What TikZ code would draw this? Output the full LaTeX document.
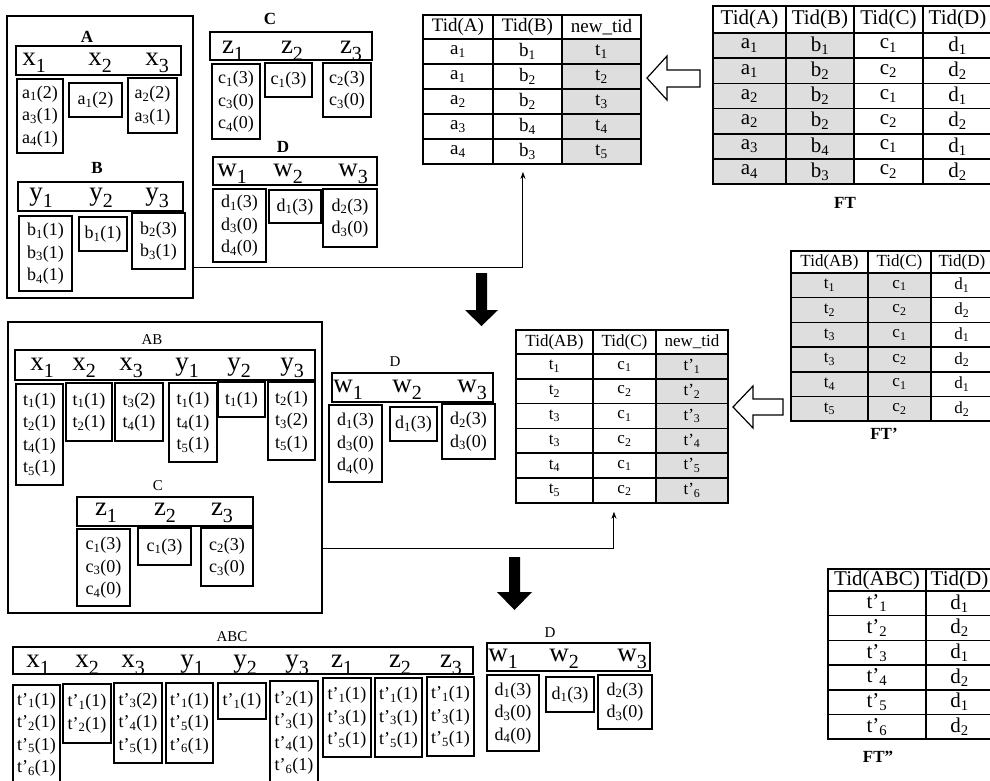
\documentclass[tikz,border=0pt]{standalone}
\usepackage{fontspec}
\setmainfont{Liberation Serif}
\usetikzlibrary{matrix,arrows.meta}
\definecolor{shade}{gray}{0.87}
\newcommand\sbs[1]{\textsubscript{#1}}
\newcommand\hl[2]{#1\raisebox{-7pt}{\fontsize{20}{20}\selectfont #2}}
\newcommand\cl[1]{\begin{tabular}{@{}c@{}}#1\end{tabular}}
% rectangle node spanning (#3,#4)-(#5,#6), style #1, name #2, text #7
\newcommand\boxnode[7]{%
  \node[#1, minimum width={(#5-#3)*1pt}, minimum height={(#6-#4)*1pt}]
    (#2) at ({(#3+#5)/2},{(#4+#6)/2}) {#7};}

\tikzset{
  cell/.style={draw, line width=1.1pt, inner sep=0pt,
    font=\fontsize{18}{22.5}\selectfont},
  hdrbox/.style={draw, line width=1.1pt, inner sep=0pt},
  hdrlab/.style={anchor=base, inner sep=0pt, font=\fontsize{27}{27}\selectfont},
  outerbox/.style={draw, line width=1.3pt, inner sep=0pt},
  boldlab/.style={inner sep=0pt, font=\fontsize{17}{17}\selectfont\bfseries},
  plainlab/.style={inner sep=0pt, font=\fontsize{15}{15}\selectfont},
  tbl/.style={matrix of nodes, anchor=north west, inner sep=0pt,
    column sep=-1.5pt, row sep=-1.5pt},
  tcell/.style={draw, line width=1.5pt, inner sep=0pt, anchor=center,
    font=\fontsize{#1}{#1}\selectfont},
  conn/.style={line width=1pt, -{Stealth[length=7pt,width=5pt]}},
  hollowarrow/.style={draw, line width=1.2pt, fill=white, line join=miter},
  blackarrow/.style={fill=black},
}

\begin{document}
\begin{tikzpicture}[x=1pt,y=-1pt]
\useasboundingbox (0,0) rectangle (990,780);
\clip (0,0) rectangle (990,780);
\fill[white] (0,0) rectangle (990,780);

% ===== attribute lists A and B =====
\boxnode{outerbox}{grpAB}{7}{16}{193}{298}{}
\node[boldlab] (labA) at (87,37) {A};
\boxnode{hdrbox}{hdrX}{16}{46}{181}{75}{}
\node[hdrlab] (hx1) at (34,65) {\hl{x}{1}};
\node[hdrlab] (hx2) at (100,65) {\hl{x}{2}};
\node[hdrlab] (hx3) at (157,65) {\hl{x}{3}};
\boxnode{cell}{ax1}{17}{79}{63}{153}{\cl{a\sbs{1}(2)\\a\sbs{3}(1)\\a\sbs{4}(1)}}
\boxnode{cell}{ax2}{69}{83}{122}{117}{\cl{a\sbs{1}(2)}}
\boxnode{cell}{ax3}{128}{78}{177}{133}{\cl{a\sbs{2}(2)\\a\sbs{3}(1)}}

\node[boldlab] (labB) at (97,168) {B};
\boxnode{hdrbox}{hdrY}{18}{182}{183}{211}{}
\node[hdrlab] (hy1) at (41,200) {\hl{y}{1}};
\node[hdrlab] (hy2) at (101,200) {\hl{y}{2}};
\node[hdrlab] (hy3) at (157,200) {\hl{y}{3}};
\boxnode{cell}{by1}{19}{216}{72}{291}{\cl{b\sbs{1}(1)\\b\sbs{3}(1)\\b\sbs{4}(1)}}
\boxnode{cell}{by2}{79}{217}{127}{251}{\cl{b\sbs{1}(1)}}
\boxnode{cell}{by3}{132}{213}{185}{269}{\cl{b\sbs{2}(3)\\b\sbs{3}(1)}}

% ===== attribute lists C and D =====
\node[boldlab] (labC) at (270,19) {C};
\boxnode{hdrbox}{hdrZ}{210}{32}{372}{60}{}
\node[hdrlab] (hz1) at (233,53) {\hl{z}{1}};
\node[hdrlab] (hz2) at (292,53) {\hl{z}{2}};
\node[hdrlab] (hz3) at (351,53) {\hl{z}{3}};
\boxnode{cell}{cz1}{212}{64}{260}{139}{\cl{c\sbs{1}(3)\\c\sbs{3}(0)\\c\sbs{4}(0)}}
\boxnode{cell}{cz2}{265}{63}{312}{97}{\cl{c\sbs{1}(3)}}
\boxnode{cell}{cz3}{323}{63}{371}{117}{\cl{c\sbs{2}(3)\\c\sbs{3}(0)}}

\node[boldlab] (labD) at (283,147) {D};
\boxnode{hdrbox}{hdrW}{213}{157}{377}{185}{}
\node[hdrlab] (hw1) at (232,176) {\hl{w}{1}};
\node[hdrlab] (hw2) at (288,176) {\hl{w}{2}};
\node[hdrlab] (hw3) at (353,176) {\hl{w}{3}};
\boxnode{cell}{dw1}{213}{189}{266}{262}{\cl{d\sbs{1}(3)\\d\sbs{3}(0)\\d\sbs{4}(0)}}
\boxnode{cell}{dw2}{269}{190}{321}{223}{\cl{d\sbs{1}(3)}}
\boxnode{cell}{dw3}{323}{189}{377}{247}{\cl{d\sbs{2}(3)\\d\sbs{3}(0)}}

% ===== first join table =====
\matrix[tbl,
  nodes={tcell=19, minimum height=25pt},
  column 1/.style={nodes={minimum width=70pt}},
  column 2/.style={nodes={minimum width=69pt}},
  column 3/.style={nodes={minimum width=79pt, fill=shade}},
  row 1/.style={nodes={minimum height=24pt, fill=white}}] (T1) at (422,14) {
  Tid(A) & Tid(B) & new\_tid \\
  a\sbs{1} & b\sbs{1} & t\sbs{1} \\
  a\sbs{1} & b\sbs{2} & t\sbs{2} \\
  a\sbs{2} & b\sbs{2} & t\sbs{3} \\
  a\sbs{3} & b\sbs{4} & t\sbs{4} \\
  a\sbs{4} & b\sbs{3} & t\sbs{5} \\
};

% ===== FT =====
\matrix[tbl,
  nodes={tcell=21, minimum height=25.2pt},
  column 1/.style={nodes={minimum width=73pt, fill=shade}},
  column 2/.style={nodes={minimum width=68pt, fill=shade}},
  column 3/.style={nodes={minimum width=69pt}},
  column 4/.style={nodes={minimum width=69pt}},
  row 1/.style={nodes={minimum height=27pt, fill=white}}] (FT) at (712,5) {
  Tid(A) & Tid(B) & Tid(C) & Tid(D) \\
  a\sbs{1} & b\sbs{1} & c\sbs{1} & d\sbs{1} \\
  a\sbs{1} & b\sbs{2} & c\sbs{2} & d\sbs{2} \\
  a\sbs{2} & b\sbs{2} & c\sbs{1} & d\sbs{1} \\
  a\sbs{2} & b\sbs{2} & c\sbs{2} & d\sbs{2} \\
  a\sbs{3} & b\sbs{4} & c\sbs{1} & d\sbs{1} \\
  a\sbs{4} & b\sbs{3} & c\sbs{2} & d\sbs{2} \\
};
\node[boldlab] (labFT) at (845,203) {FT};

% hollow arrow FT -> first join table
\draw[hollowarrow] (647,78) -- (667,56) -- (667,70) -- (700,70) -- (700,87)
  -- (667,87) -- (667,100) -- cycle;

% connector from A,B lists to the first join table
\draw[conn] ([yshift=-110pt]grpAB.east) -| ([xshift=-9pt,yshift=-7pt]T1.south);

% step arrow
\fill[blackarrow] (476,273) -- (487,273) -- (487,310) -- (498,310) -- (481.5,326)
  -- (465,310) -- (476,310) -- cycle;

% ===== attribute lists AB and C =====
\boxnode{outerbox}{grpABC}{8}{322}{322}{613}{}
\node[plainlab] (labAB) at (152,340) {AB};
\boxnode{hdrbox}{hdrAB}{15}{350}{315}{380}{}
\node[hdrlab] (hab1) at (42,370) {\hl{x}{1}};
\node[hdrlab] (hab2) at (84,370) {\hl{x}{2}};
\node[hdrlab] (hab3) at (131,370) {\hl{x}{3}};
\node[hdrlab] (hab4) at (187,370) {\hl{y}{1}};
\node[hdrlab] (hab5) at (239,370) {\hl{y}{2}};
\node[hdrlab] (hab6) at (292,370) {\hl{y}{3}};
\boxnode{cell}{ab1}{16}{384}{63}{485}{\cl{t\sbs{1}(1)\\t\sbs{2}(1)\\t\sbs{4}(1)\\t\sbs{5}(1)}}
\boxnode{cell}{ab2}{66}{383}{112}{441}{\cl{t\sbs{1}(1)\\t\sbs{2}(1)}}
\boxnode{cell}{ab3}{115}{383}{163}{441}{\cl{t\sbs{3}(2)\\t\sbs{4}(1)}}
\boxnode{cell}{ab4}{169}{383}{217}{462}{\cl{t\sbs{1}(1)\\t\sbs{4}(1)\\t\sbs{5}(1)}}
\boxnode{cell}{ab5}{218}{382}{265}{417}{\cl{t\sbs{1}(1)}}
\boxnode{cell}{ab6}{268}{382}{315}{460}{\cl{t\sbs{2}(1)\\t\sbs{3}(2)\\t\sbs{5}(1)}}

\node[plainlab] (labC2) at (158,486) {C};
\boxnode{hdrbox}{hdrZ2}{77}{497}{253}{526}{}
\node[hdrlab] (hz21) at (106,515) {\hl{z}{1}};
\node[hdrlab] (hz22) at (165,515) {\hl{z}{2}};
\node[hdrlab] (hz23) at (222,515) {\hl{z}{3}};
\boxnode{cell}{cz21}{77}{529}{130}{606}{\cl{c\sbs{1}(3)\\c\sbs{3}(0)\\c\sbs{4}(0)}}
\boxnode{cell}{cz22}{138}{528}{191}{565}{\cl{c\sbs{1}(3)}}
\boxnode{cell}{cz23}{201}{528}{253}{586}{\cl{c\sbs{2}(3)\\c\sbs{3}(0)}}

% ===== attribute list D (second step) =====
\node[plainlab] (labD2) at (395,362) {D};
\boxnode{hdrbox}{hdrW2}{332}{373}{493}{402}{}
\node[hdrlab] (hw21) at (348,392) {\hl{w}{1}};
\node[hdrlab] (hw22) at (407,392) {\hl{w}{2}};
\node[hdrlab] (hw23) at (472,392) {\hl{w}{3}};
\boxnode{cell}{dw21}{329}{405}{382}{482}{\cl{d\sbs{1}(3)\\d\sbs{3}(0)\\d\sbs{4}(0)}}
\boxnode{cell}{dw22}{390}{407}{437}{441}{\cl{d\sbs{1}(3)}}
\boxnode{cell}{dw23}{442}{404}{495}{459}{\cl{d\sbs{2}(3)\\d\sbs{3}(0)}}

% ===== second join table =====
\matrix[tbl,
  nodes={tcell=17, minimum height=24.8pt},
  column 1/.style={nodes={minimum width=77pt}},
  column 2/.style={nodes={minimum width=63pt}},
  column 3/.style={nodes={minimum width=72pt, fill=shade}},
  row 1/.style={nodes={minimum height=24pt, fill=white}}] (T2) at (515,329) {
  Tid(AB) & Tid(C) & new\_tid \\
  t\sbs{1} & c\sbs{1} & t'\sbs{1} \\
  t\sbs{2} & c\sbs{2} & t'\sbs{2} \\
  t\sbs{3} & c\sbs{1} & t'\sbs{3} \\
  t\sbs{3} & c\sbs{2} & t'\sbs{4} \\
  t\sbs{4} & c\sbs{1} & t'\sbs{5} \\
  t\sbs{5} & c\sbs{2} & t'\sbs{6} \\
};

% ===== FT' =====
\matrix[tbl,
  nodes={tcell=17, minimum height=24.7pt},
  column 1/.style={nodes={minimum width=77pt, fill=shade}},
  column 2/.style={nodes={minimum width=63pt, fill=shade}},
  column 3/.style={nodes={minimum width=62pt}},
  row 1/.style={nodes={minimum height=22pt, fill=white}}] (FTp) at (790,250) {
  Tid(AB) & Tid(C) & Tid(D) \\
  t\sbs{1} & c\sbs{1} & d\sbs{1} \\
  t\sbs{2} & c\sbs{2} & d\sbs{2} \\
  t\sbs{3} & c\sbs{1} & d\sbs{1} \\
  t\sbs{3} & c\sbs{2} & d\sbs{2} \\
  t\sbs{4} & c\sbs{1} & d\sbs{1} \\
  t\sbs{5} & c\sbs{2} & d\sbs{2} \\
};
\node[boldlab] (labFTp) at (884,434) {FT'};

% hollow arrow FT' -> second join table
\draw[hollowarrow] (733,407) -- (753,386) -- (753,399) -- (783,399) -- (783,415)
  -- (753,415) -- (753,428) -- cycle;

% connector from AB,C lists to the second join table
\draw[conn] ([yshift=-80.5pt]grpABC.east) -| ([xshift=-8pt,yshift=-8pt]T2.south);

% step arrow
\fill[blackarrow] (509,557) -- (520,557) -- (520,592) -- (532,592) -- (514.5,610)
  -- (497,592) -- (509,592) -- cycle;

% ===== attribute list ABC =====
\node[plainlab] (labABC) at (232,637) {ABC};
\boxnode{hdrbox}{hdrABC}{13}{647}{473}{674}{}
\node[hdrlab] (hc1) at (38,667) {\hl{x}{1}};
\node[hdrlab] (hc2) at (87,667) {\hl{x}{2}};
\node[hdrlab] (hc3) at (133,667) {\hl{x}{3}};
\node[hdrlab] (hc4) at (192,667) {\hl{y}{1}};
\node[hdrlab] (hc5) at (245,667) {\hl{y}{2}};
\node[hdrlab] (hc6) at (297,667) {\hl{y}{3}};
\node[hdrlab] (hc7) at (342,667) {\hl{z}{1}};
\node[hdrlab] (hc8) at (400,667) {\hl{z}{2}};
\node[hdrlab] (hc9) at (451,667) {\hl{z}{3}};
\boxnode{cell}{abc1}{13}{685}{60}{784}{\cl{t'\sbs{1}(1)\\t'\sbs{2}(1)\\t'\sbs{5}(1)\\t'\sbs{6}(1)}}
\boxnode{cell}{abc2}{63}{684}{111}{743}{\cl{t'\sbs{1}(1)\\t'\sbs{2}(1)}}
\boxnode{cell}{abc3}{114}{683}{162}{763}{\cl{t'\sbs{3}(2)\\t'\sbs{4}(1)\\t'\sbs{5}(1)}}
\boxnode{cell}{abc4}{166}{683}{213}{763}{\cl{t'\sbs{1}(1)\\t'\sbs{5}(1)\\t'\sbs{6}(1)}}
\boxnode{cell}{abc5}{218}{683}{266}{719}{\cl{t'\sbs{1}(1)}}
\boxnode{cell}{abc6}{270}{681}{318}{784}{\cl{t'\sbs{2}(1)\\t'\sbs{3}(1)\\t'\sbs{4}(1)\\t'\sbs{6}(1)}}
\boxnode{cell}{abc7}{323}{678}{371}{757}{\cl{t'\sbs{1}(1)\\t'\sbs{3}(1)\\t'\sbs{5}(1)}}
\boxnode{cell}{abc8}{375}{678}{422}{757}{\cl{t'\sbs{1}(1)\\t'\sbs{3}(1)\\t'\sbs{5}(1)}}
\boxnode{cell}{abc9}{427}{677}{474}{756}{\cl{t'\sbs{1}(1)\\t'\sbs{3}(1)\\t'\sbs{5}(1)}}

% ===== attribute list D (third step) =====
\node[plainlab] (labD3) at (550,633) {D};
\boxnode{hdrbox}{hdrW3}{487}{643}{650}{671}{}
\node[hdrlab] (hw31) at (503,661) {\hl{w}{1}};
\node[hdrlab] (hw32) at (564,661) {\hl{w}{2}};
\node[hdrlab] (hw33) at (632,661) {\hl{w}{3}};
\boxnode{cell}{dw31}{487}{675}{539}{751}{\cl{d\sbs{1}(3)\\d\sbs{3}(0)\\d\sbs{4}(0)}}
\boxnode{cell}{dw32}{546}{677}{594}{712}{\cl{d\sbs{1}(3)}}
\boxnode{cell}{dw33}{598}{675}{652}{729}{\cl{d\sbs{2}(3)\\d\sbs{3}(0)}}

% ===== FT'' =====
\matrix[tbl,
  nodes={tcell=21, minimum height=24.7pt},
  column 1/.style={nodes={minimum width=98pt}},
  column 2/.style={nodes={minimum width=67pt}},
  row 1/.style={nodes={minimum height=22pt}}] (FTpp) at (827,568) {
  Tid(ABC) & Tid(D) \\
  t'\sbs{1} & d\sbs{1} \\
  t'\sbs{2} & d\sbs{2} \\
  t'\sbs{3} & d\sbs{1} \\
  t'\sbs{4} & d\sbs{2} \\
  t'\sbs{5} & d\sbs{1} \\
  t'\sbs{6} & d\sbs{2} \\
};
\node[boldlab] (labFTpp) at (878,757) {FT''};
\end{tikzpicture}
\end{document}
